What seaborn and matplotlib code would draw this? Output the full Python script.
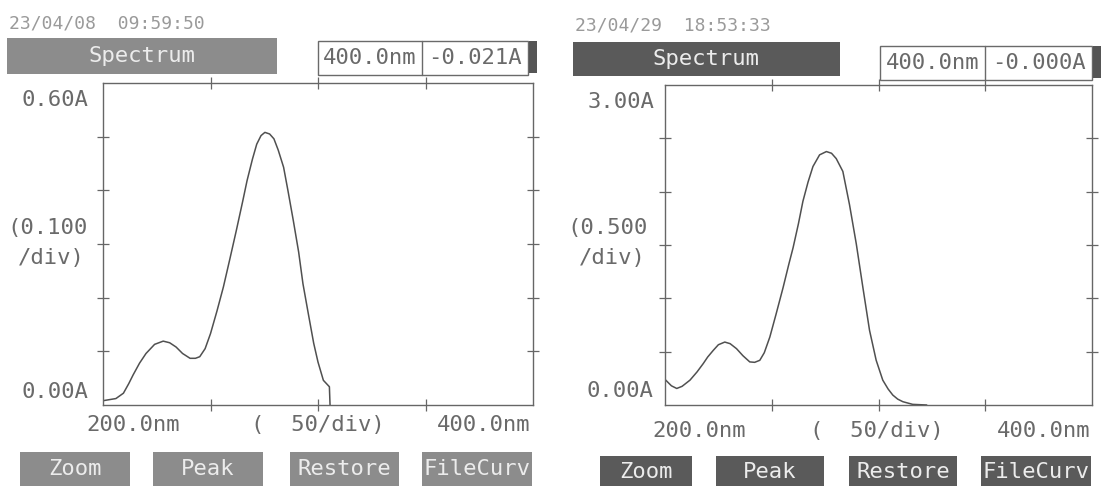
import matplotlib
matplotlib.use("Agg")
import numpy as np
import matplotlib.pyplot as plt
from matplotlib.patches import Rectangle
from matplotlib import font_manager
import seaborn as sns

# --- scan 1 (23/04/08), absorbance 0 - 0.6 A ---
wl_a = [200.0, 203, 206, 209.5, 212, 214, 217, 220, 224, 228, 231, 234, 237, 240.5,
        243, 245, 247.5, 250, 253, 256, 259, 262, 265, 267, 269.5, 271.5, 273.5,
        275.3, 277.5, 279.5, 281.5, 284, 286, 288.5, 291, 293, 295.5, 298, 300,
        302.5, 305.3, 305.6]
abs_a = [0.008, 0.010, 0.012, 0.022, 0.040, 0.056, 0.078, 0.096, 0.113, 0.119, 0.116,
         0.108, 0.096, 0.087, 0.087, 0.090, 0.105, 0.133, 0.175, 0.220, 0.272, 0.325,
         0.380, 0.418, 0.458, 0.486, 0.502, 0.508, 0.505, 0.496, 0.475, 0.443, 0.400,
         0.344, 0.285, 0.226, 0.170, 0.115, 0.080, 0.046, 0.034, 0.000]

# --- scan 2 (23/04/29), absorbance 0 - 3.0 A ---
wl_b = [200, 203, 205.5, 208, 211.7, 215, 217.9, 220, 222.6, 225, 228, 230.5, 233.5,
        236.5, 239.7, 242, 244.4, 246.5, 249.1, 252, 255.3, 258, 260, 262.5, 264.6,
        267, 269.3, 272.4, 275.6, 278, 280.2, 283.3, 286.4, 289.6, 292.7, 295.8,
        298.9, 302, 304.5, 306.7, 309, 311.4, 316, 322.6]
abs_b = [0.24, 0.18, 0.155, 0.175, 0.233, 0.31, 0.388, 0.45, 0.512, 0.565, 0.590, 0.575,
         0.528, 0.462, 0.404, 0.400, 0.419, 0.49, 0.637, 0.85, 1.10, 1.32, 1.475, 1.70,
         1.91, 2.09, 2.236, 2.345, 2.376, 2.36, 2.31, 2.19, 1.88, 1.51, 1.10, 0.70,
         0.42, 0.233, 0.15, 0.093, 0.055, 0.031, 0.006, 0.0]

stamps = ["23/04/08  09:59:50", "23/04/29  18:53:33"]
cursor_wl = ["400.0nm", "400.0nm"]
cursor_abs = ["-0.021A", "-0.000A"]
y_top_labels = ["0.60A", "3.00A"]
y_div_labels = ["(0.100\n /div)", "(0.500\n /div)"]
y_bot_label = "0.00A"
y_max = [0.6, 3.0]
x_labels = ["200.0nm", "(  50/div)", "400.0nm"]
buttons = ["Zoom", "Peak", "Restore", "FileCurv"]

W, H = 1104, 486


def pick_font():
    for name in ["Liberation Sans Narrow", "DejaVu Sans Mono"]:
        try:
            font_manager.findfont(name, fallback_to_default=False)
            return name
        except ValueError:
            pass
    return "DejaVu Sans"


sns.set_style("white")
FONT = pick_font()
plt.rcParams["font.family"] = [FONT, "DejaVu Sans"]
FS = 19 if "Narrow" in FONT else 16
TXT = "#6a6a6a"


def fx(x):
    return x / W


def fy(y):
    return 1 - y / H


def rect(fig, x0, y0, x1, y1, **kw):
    fig.add_artist(Rectangle((fx(x0), fy(y1)), fx(x1) - fx(x0), fy(y0) - fy(y1),
                             transform=fig.transFigure, **kw))


def text(fig, x, y, s, **kw):
    fig.text(fx(x), fy(y), s, va="center", **kw)


# pixel layout of each printed screen (scan is slightly shifted)
layouts = [
    dict(plot=(103, 83, 533, 405), date=(9, 23), banner=(7, 38, 277, 74),
         box=(318, 41, 528, 75, 422), ytop=(88, 100), ydiv=(47, 228, 258), ybot=(88, 392),
         xlab=(133, 318, 484, 425), btns=[(20, 130), (153, 263), (290, 399), (422, 532)],
         btn_y=(452, 486), shade="#8c8c8c"),
    dict(plot=(665, 85, 1092, 405), date=(575, 26), banner=(573, 42, 840, 76),
         box=(880, 46, 1092, 80, 985), ytop=(654, 102), ydiv=(608, 228, 258), ybot=(653, 391),
         xlab=(699, 877, 1044, 431), btns=[(600, 692), (716, 824), (849, 957), (981, 1091)],
         btn_y=(456, 487), shade="#5a5a5a"),
]

fig = plt.figure(figsize=(W / 100, H / 100), dpi=100)
fig.patch.set_facecolor("white")

for i, (wl, ab) in enumerate([(wl_a, abs_a), (wl_b, abs_b)]):
    L = layouts[i]
    x0, y0, x1, y1 = L["plot"]
    ax = fig.add_axes([fx(x0), fy(y1), fx(x1) - fx(x0), fy(y0) - fy(y1)])
    sns.lineplot(x=wl, y=ab, ax=ax, color="#505050", lw=1.1, estimator=None, sort=False)
    ax.set_xlim(200, 400)
    ax.set_ylim(0, y_max[i])
    ax.set_xticks([250, 300, 350])
    ax.set_yticks(np.linspace(0, y_max[i], 7)[1:-1])
    ax.tick_params(direction="inout", length=8, width=0.9, color="#666666",
                   top=True, right=True, bottom=True, left=True,
                   labelbottom=False, labelleft=False)
    for s in ax.spines.values():
        s.set_color("#666666")
        s.set_linewidth(1.0)
    ax.set_xlabel("")
    ax.set_ylabel("")

    # header
    text(fig, L["date"][0], L["date"][1], stamps[i], ha="left", fontsize=13,
         color="#9a9a9a", family="DejaVu Sans Mono")
    bx0, by0, bx1, by1 = L["banner"]
    rect(fig, bx0, by0, bx1, by1, facecolor=L["shade"], edgecolor="none")
    text(fig, (bx0 + bx1) / 2, (by0 + by1) / 2, "Spectrum", ha="center", fontsize=FS,
         color="#ececec")
    cx0, cy0, cx1, cy1, cdiv = L["box"]
    rect(fig, cx0, cy0, cx1, cy1, facecolor="white", edgecolor="#6a6a6a", lw=1.0)
    fig.add_artist(plt.Line2D([fx(cdiv)] * 2, [fy(cy0), fy(cy1)], color="#6a6a6a", lw=1.0,
                              transform=fig.transFigure))
    text(fig, (cx0 + cdiv) / 2, (cy0 + cy1) / 2, cursor_wl[i], ha="center", fontsize=FS,
         color=TXT)
    text(fig, (cdiv + cx1) / 2, (cy0 + cy1) / 2, cursor_abs[i], ha="center", fontsize=FS,
         color=TXT)
    rect(fig, cx1 + 1, cy0, cx1 + 9, cy1 - 2, facecolor="#555555", edgecolor="none")

    # axis captions
    text(fig, L["ytop"][0], L["ytop"][1], y_top_labels[i], ha="right", fontsize=FS, color=TXT)
    top_line, bot_line = y_div_labels[i].split("\n")
    text(fig, L["ydiv"][0], L["ydiv"][1], top_line, ha="center", fontsize=FS, color=TXT)
    text(fig, L["ydiv"][0] + 4, L["ydiv"][2], bot_line.strip(), ha="center", fontsize=FS,
         color=TXT)
    text(fig, L["ybot"][0], L["ybot"][1], y_bot_label, ha="right", fontsize=FS, color=TXT)
    for xc, lab in zip(L["xlab"][:3], x_labels):
        text(fig, xc, L["xlab"][3], lab, ha="center", fontsize=FS, color=TXT)

    # soft keys
    ky0, ky1 = L["btn_y"]
    for (kx0, kx1), lab in zip(L["btns"], buttons):
        rect(fig, kx0, ky0, kx1, ky1, facecolor=L["shade"], edgecolor="none")
        text(fig, (kx0 + kx1) / 2, (ky0 + ky1) / 2, lab, ha="center", fontsize=FS,
             color="#ececec")

fig.savefig("out.png", dpi=100, facecolor="white")
